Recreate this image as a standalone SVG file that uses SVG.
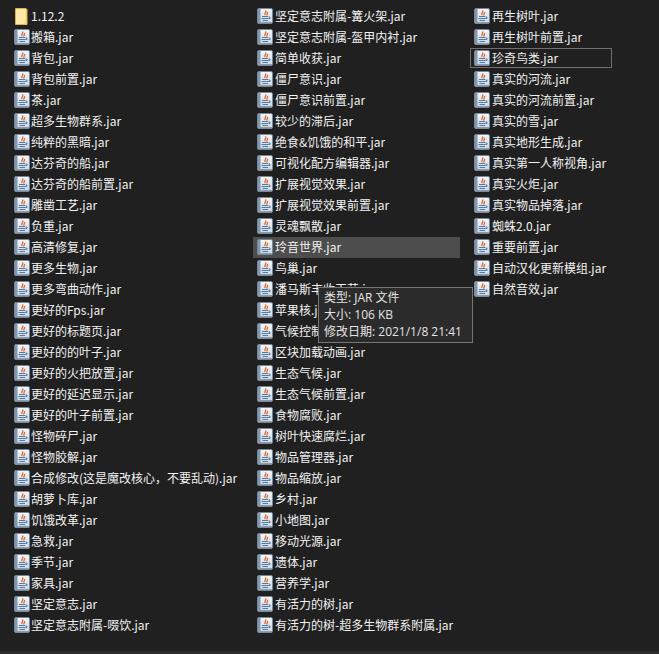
<svg xmlns="http://www.w3.org/2000/svg" width="659" height="654" viewBox="0 0 659 654">
<style>
text{font-family:"Noto Sans CJK SC","Liberation Sans",sans-serif;font-size:12px;fill:#f2f2f2}
.t{font-family:"Open Sans","Noto Sans CJK SC",sans-serif;font-size:12px;fill:#e4e4e4}
</style>
<defs>
<linearGradient id="pg" x1="0" y1="0" x2="0" y2="1"><stop offset="0" stop-color="#f4f6f9"/><stop offset="1" stop-color="#cdd6e0"/></linearGradient>
<g id="j">
<rect x="0.500" y="0.500" width="15" height="15" rx="1.500" fill="url(#pg)" stroke="#76889b"/>
<rect x="1" y="1" width="2.500" height="14" fill="#8297ad"/>
<rect x="1" y="14" width="14" height="1.200" fill="#8a9aac"/>
<path d="M8.500 2.500C10 4 7 5 8 7M10.500 4C11 5.500 9.500 6 10 7.500" fill="none" stroke="#e0662a" stroke-width="1.300"/>
<path d="M5 8.500h6M4.500 10.500h7M5.500 12.500h5.500" fill="none" stroke="#4f7aa6" stroke-width="1"/>
<path d="M11.500 9h1.500v1.500h-1.500" fill="none" stroke="#4f7aa6"/>
</g>
</defs>
<rect width="659" height="654" fill="#202020"/>
<rect y="651" width="659" height="3" fill="#2b2b2b"/>
<rect x="253" y="237" width="207" height="21" fill="#4d4d4d"/>
<rect x="470.500" y="48.500" width="141" height="19" fill="#202020" stroke="#6e6e6e"/>
<g id="folder">
<path d="M15.500 8.500h10.500l1 1v15h-11.500z" fill="#fbdc7a" stroke="#d9b44e" stroke-width="1"/>
<rect x="16" y="9" width="9.500" height="15" fill="#ffe9a6"/>
<path d="M25.500 18.500h1.500v6h-2.500z" fill="#f6cf66"/>
<text x="31" y="21">1.12.2</text>
</g>
<g id="col1">
<use href="#j" x="14" y="29"/><text x="31" y="42">搬箱.jar</text>
<use href="#j" x="14" y="50"/><text x="31" y="63">背包.jar</text>
<use href="#j" x="14" y="71"/><text x="31" y="84">背包前置.jar</text>
<use href="#j" x="14" y="92"/><text x="31" y="105">茶.jar</text>
<use href="#j" x="14" y="113"/><text x="31" y="126">超多生物群系.jar</text>
<use href="#j" x="14" y="134"/><text x="31" y="147">纯粹的黑暗.jar</text>
<use href="#j" x="14" y="155"/><text x="31" y="168">达芬奇的船.jar</text>
<use href="#j" x="14" y="176"/><text x="31" y="189">达芬奇的船前置.jar</text>
<use href="#j" x="14" y="197"/><text x="31" y="210">雕凿工艺.jar</text>
<use href="#j" x="14" y="218"/><text x="31" y="231">负重.jar</text>
<use href="#j" x="14" y="239"/><text x="31" y="252">高清修复.jar</text>
<use href="#j" x="14" y="260"/><text x="31" y="273">更多生物.jar</text>
<use href="#j" x="14" y="281"/><text x="31" y="294">更多弯曲动作.jar</text>
<use href="#j" x="14" y="302"/><text x="31" y="315">更好的Fps.jar</text>
<use href="#j" x="14" y="323"/><text x="31" y="336">更好的标题页.jar</text>
<use href="#j" x="14" y="344"/><text x="31" y="357">更好的的叶子.jar</text>
<use href="#j" x="14" y="365"/><text x="31" y="378">更好的火把放置.jar</text>
<use href="#j" x="14" y="386"/><text x="31" y="399">更好的延迟显示.jar</text>
<use href="#j" x="14" y="407"/><text x="31" y="420">更好的叶子前置.jar</text>
<use href="#j" x="14" y="428"/><text x="31" y="441">怪物碎尸.jar</text>
<use href="#j" x="14" y="449"/><text x="31" y="462">怪物胶解.jar</text>
<use href="#j" x="14" y="470"/><text x="31" y="483">合成修改(这是魔改核心，不要乱动).jar</text>
<use href="#j" x="14" y="491"/><text x="31" y="504">胡萝卜库.jar</text>
<use href="#j" x="14" y="512"/><text x="31" y="525">饥饿改革.jar</text>
<use href="#j" x="14" y="533"/><text x="31" y="546">急救.jar</text>
<use href="#j" x="14" y="554"/><text x="31" y="567">季节.jar</text>
<use href="#j" x="14" y="575"/><text x="31" y="588">家具.jar</text>
<use href="#j" x="14" y="596"/><text x="31" y="609">坚定意志.jar</text>
<use href="#j" x="14" y="617"/><text x="31" y="630">坚定意志附属-啜饮.jar</text>
</g>
<g id="col2">
<use href="#j" x="257" y="8"/><text x="275" y="21">坚定意志附属-篝火架.jar</text>
<use href="#j" x="257" y="29"/><text x="275" y="42">坚定意志附属-盔甲内衬.jar</text>
<use href="#j" x="257" y="50"/><text x="275" y="63">简单收获.jar</text>
<use href="#j" x="257" y="71"/><text x="275" y="84">僵尸意识.jar</text>
<use href="#j" x="257" y="92"/><text x="275" y="105">僵尸意识前置.jar</text>
<use href="#j" x="257" y="113"/><text x="275" y="126">较少的滞后.jar</text>
<use href="#j" x="257" y="134"/><text x="275" y="147">绝食&amp;饥饿的和平.jar</text>
<use href="#j" x="257" y="155"/><text x="275" y="168">可视化配方编辑器.jar</text>
<use href="#j" x="257" y="176"/><text x="275" y="189">扩展视觉效果.jar</text>
<use href="#j" x="257" y="197"/><text x="275" y="210">扩展视觉效果前置.jar</text>
<use href="#j" x="257" y="218"/><text x="275" y="231">灵魂飘散.jar</text>
<use href="#j" x="257" y="239"/><text x="275" y="252">玲音世界.jar</text>
<use href="#j" x="257" y="260"/><text x="275" y="273">鸟巢.jar</text>
<use href="#j" x="257" y="281"/><text x="275" y="294">潘马斯丰收工艺.jar</text>
<use href="#j" x="257" y="302"/><text x="275" y="315">苹果核.jar</text>
<use href="#j" x="257" y="323"/><text x="275" y="336">气候控制.jar</text>
<use href="#j" x="257" y="344"/><text x="275" y="357">区块加载动画.jar</text>
<use href="#j" x="257" y="365"/><text x="275" y="378">生态气候.jar</text>
<use href="#j" x="257" y="386"/><text x="275" y="399">生态气候前置.jar</text>
<use href="#j" x="257" y="407"/><text x="275" y="420">食物腐败.jar</text>
<use href="#j" x="257" y="428"/><text x="275" y="441">树叶快速腐烂.jar</text>
<use href="#j" x="257" y="449"/><text x="275" y="462">物品管理器.jar</text>
<use href="#j" x="257" y="470"/><text x="275" y="483">物品缩放.jar</text>
<use href="#j" x="257" y="491"/><text x="275" y="504">乡村.jar</text>
<use href="#j" x="257" y="512"/><text x="275" y="525">小地图.jar</text>
<use href="#j" x="257" y="533"/><text x="275" y="546">移动光源.jar</text>
<use href="#j" x="257" y="554"/><text x="275" y="567">遗体.jar</text>
<use href="#j" x="257" y="575"/><text x="275" y="588">营养学.jar</text>
<use href="#j" x="257" y="596"/><text x="275" y="609">有活力的树.jar</text>
<use href="#j" x="257" y="617"/><text x="275" y="630">有活力的树-超多生物群系附属.jar</text>
</g>
<g id="col3">
<use href="#j" x="474" y="8"/><text x="492" y="21">再生树叶.jar</text>
<use href="#j" x="474" y="29"/><text x="492" y="42">再生树叶前置.jar</text>
<use href="#j" x="474" y="50"/><text x="492" y="63">珍奇鸟类.jar</text>
<use href="#j" x="474" y="71"/><text x="492" y="84">真实的河流.jar</text>
<use href="#j" x="474" y="92"/><text x="492" y="105">真实的河流前置.jar</text>
<use href="#j" x="474" y="113"/><text x="492" y="126">真实的雪.jar</text>
<use href="#j" x="474" y="134"/><text x="492" y="147">真实地形生成.jar</text>
<use href="#j" x="474" y="155"/><text x="492" y="168">真实第一人称视角.jar</text>
<use href="#j" x="474" y="176"/><text x="492" y="189">真实火炬.jar</text>
<use href="#j" x="474" y="197"/><text x="492" y="210">真实物品掉落.jar</text>
<use href="#j" x="474" y="218"/><text x="492" y="231">蜘蛛2.0.jar</text>
<use href="#j" x="474" y="239"/><text x="492" y="252">重要前置.jar</text>
<use href="#j" x="474" y="260"/><text x="492" y="273">自动汉化更新模组.jar</text>
<use href="#j" x="474" y="281"/><text x="492" y="294">自然音效.jar</text>
</g>
<g id="tooltip">
<rect x="318.500" y="287.500" width="154" height="55" fill="#2b2b2b" stroke="#767676"/>
<text class="t" x="324" y="302">类型: JAR 文件</text>
<text class="t" x="324" y="319">大小: 106 KB</text>
<text class="t" x="324" y="336">修改日期: 2021/1/8 21:41</text>
</g>
</svg>
